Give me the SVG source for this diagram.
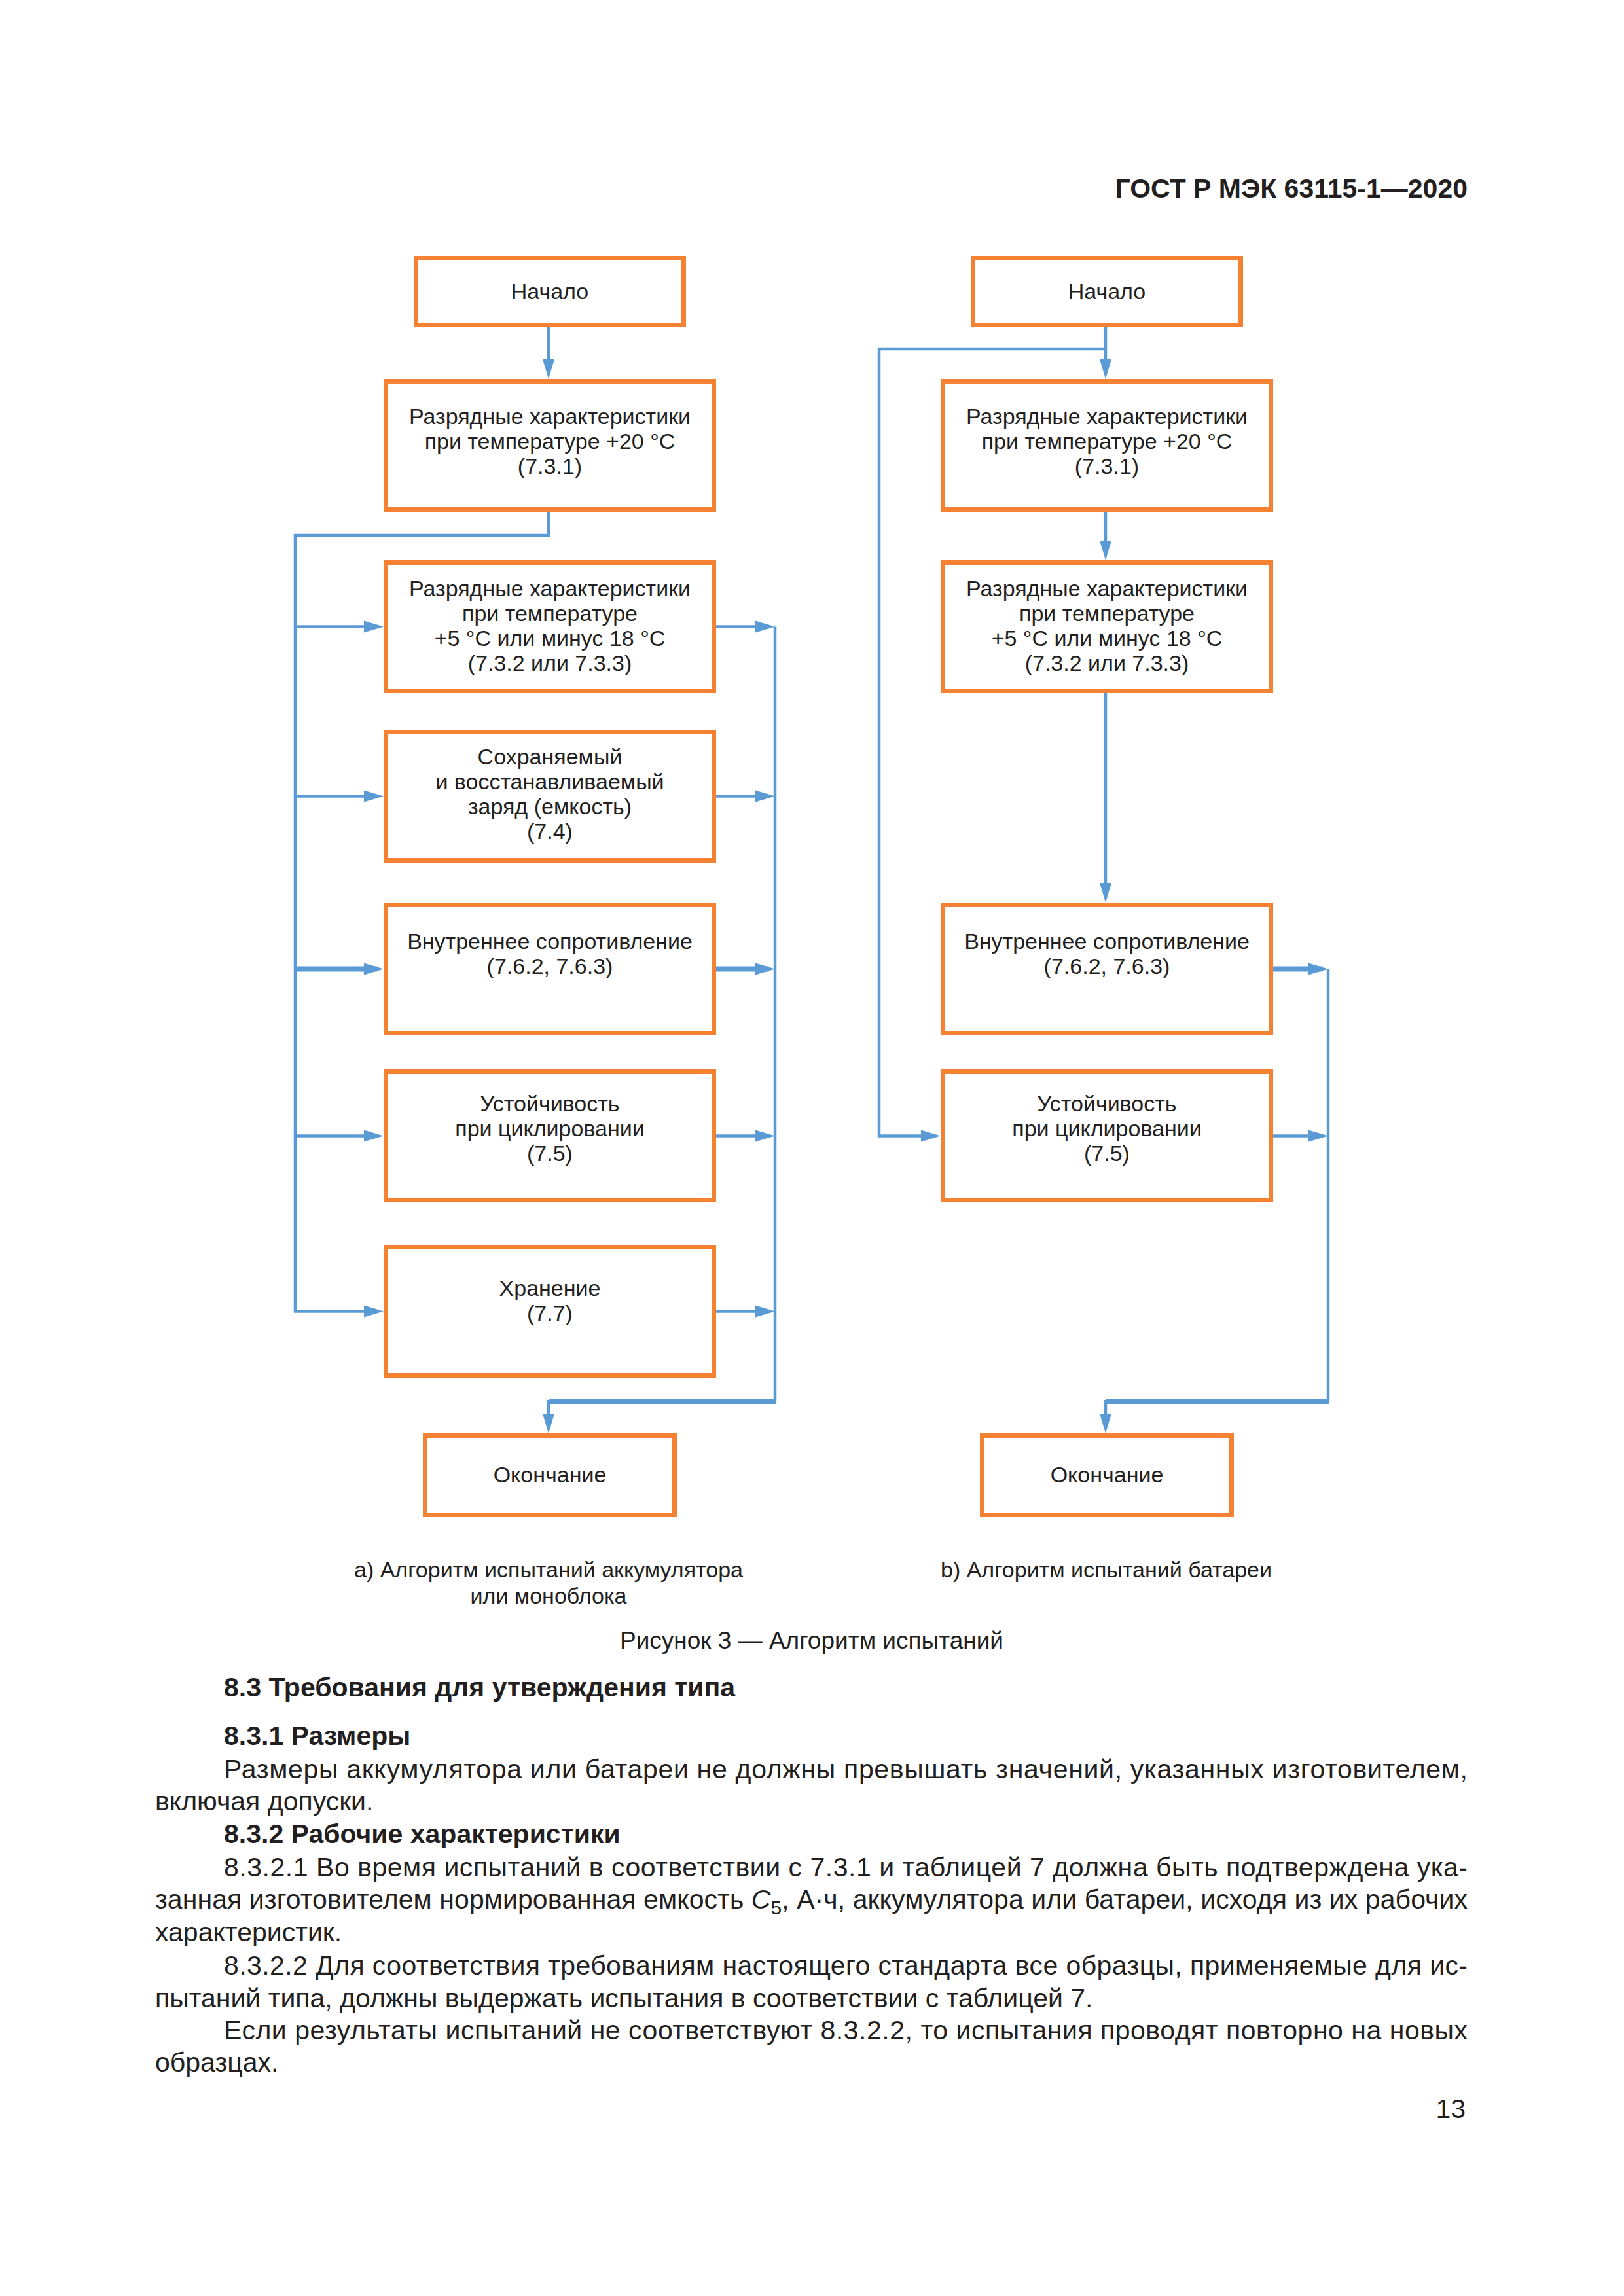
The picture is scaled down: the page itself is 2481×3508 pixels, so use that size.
<svg xmlns="http://www.w3.org/2000/svg" width="2481" height="3508" viewBox="0 0 2481 3508">
<style>
.box{fill:#ffffff;stroke:#f58233;stroke-width:7}
.t{font-family:"Liberation Sans",Arial,sans-serif;font-size:34px;fill:#231f20;text-anchor:middle}
.c{fill:none;stroke:#5b9bd5;stroke-width:4.5}
.ct{fill:none;stroke:#5b9bd5;stroke-width:8}
.body{font-family:"Liberation Sans",Arial,sans-serif;font-size:41px;fill:#231f20}
.b{font-weight:bold}
</style>
<defs>
<marker id="ah" markerUnits="userSpaceOnUse" markerWidth="32" markerHeight="20" refX="20" refY="10" orient="auto">
<path d="M0,1 L30,10 L0,19 Z" fill="#5b9bd5"/>
</marker>
</defs>
<rect width="2481" height="3508" fill="#ffffff"/>
<text class="body b" x="2242" y="302" style="text-anchor:end">ГОСТ Р МЭК 63115-1—2020</text>

<g id="connectors">
<path class="c" d="M838,500 V569" marker-end="url(#ah)"/>
<path class="c" d="M838,782 V818 H451 V2003.5"/>
<path class="c" d="M451,957.5 H576" marker-end="url(#ah)"/>
<path class="c" d="M451,1216.5 H576" marker-end="url(#ah)"/>
<path class="ct" d="M451,1480.5 H576" marker-end="url(#ah)"/>
<path class="c" d="M451,1735.5 H576" marker-end="url(#ah)"/>
<path class="c" d="M449,2003.5 H576" marker-end="url(#ah)"/>
<path class="c" d="M1094,957.5 H1174" marker-end="url(#ah)"/>
<path class="c" d="M1094,1216.5 H1174" marker-end="url(#ah)"/>
<path class="ct" d="M1094,1480.5 H1174" marker-end="url(#ah)"/>
<path class="c" d="M1094,1735.5 H1174" marker-end="url(#ah)"/>
<path class="c" d="M1094,2003.5 H1174" marker-end="url(#ah)"/>
<path class="c" d="M1184,957.5 V2141"/>
<path class="ct" d="M1186,2141 H838"/>
<path class="c" d="M838,2139 V2180" marker-end="url(#ah)"/>
<path class="c" d="M1689,500 V569" marker-end="url(#ah)"/>
<path class="c" d="M1689,533 H1343 V1735.5 H1427" marker-end="url(#ah)"/>
<path class="c" d="M1689,782 V846" marker-end="url(#ah)"/>
<path class="c" d="M1689,1059 V1369" marker-end="url(#ah)"/>
<path class="ct" d="M1945,1480.5 H2019" marker-end="url(#ah)"/>
<path class="c" d="M1945,1735.5 H2019" marker-end="url(#ah)"/>
<path class="c" d="M2029,1480.5 V2141"/>
<path class="ct" d="M2031,2141 H1689"/>
<path class="c" d="M1689,2139 V2180" marker-end="url(#ah)"/>
</g>

<g id="a-start"><rect class="box" x="635.5" y="394.5" width="409" height="102"/><text class="t" x="840" y="457">Начало</text></g>
<g id="a-discharge20"><rect class="box" x="589.5" y="582.5" width="501" height="196"/><text class="t" x="840" y="648">Разрядные характеристики</text><text class="t" x="840" y="686">при температуре +20 °C</text><text class="t" x="840" y="724">(7.3.1)</text></g>
<g id="a-discharge5"><rect class="box" x="589.5" y="859.5" width="501" height="196"/><text class="t" x="840" y="911">Разрядные характеристики</text><text class="t" x="840" y="949">при температуре</text><text class="t" x="840" y="987">+5 °C или минус 18 °C</text><text class="t" x="840" y="1025">(7.3.2 или 7.3.3)</text></g>
<g id="a-charge"><rect class="box" x="589.5" y="1118.5" width="501" height="196"/><text class="t" x="840" y="1168">Сохраняемый</text><text class="t" x="840" y="1206">и восстанавливаемый</text><text class="t" x="840" y="1244">заряд (емкость)</text><text class="t" x="840" y="1282">(7.4)</text></g>
<g id="a-resistance"><rect class="box" x="589.5" y="1382.5" width="501" height="196"/><text class="t" x="840" y="1450">Внутреннее сопротивление</text><text class="t" x="840" y="1488">(7.6.2, 7.6.3)</text></g>
<g id="a-cycling"><rect class="box" x="589.5" y="1637.5" width="501" height="196"/><text class="t" x="840" y="1698">Устойчивость</text><text class="t" x="840" y="1736">при циклировании</text><text class="t" x="840" y="1774">(7.5)</text></g>
<g id="a-storage"><rect class="box" x="589.5" y="1905.5" width="501" height="196"/><text class="t" x="840" y="1980">Хранение</text><text class="t" x="840" y="2018">(7.7)</text></g>
<g id="a-end"><rect class="box" x="649.5" y="2193.5" width="381" height="121"/><text class="t" x="840" y="2265">Окончание</text></g>

<g id="b-start"><rect class="box" x="1486.5" y="394.5" width="409" height="102"/><text class="t" x="1691" y="457">Начало</text></g>
<g id="b-discharge20"><rect class="box" x="1440.5" y="582.5" width="501" height="196"/><text class="t" x="1691" y="648">Разрядные характеристики</text><text class="t" x="1691" y="686">при температуре +20 °C</text><text class="t" x="1691" y="724">(7.3.1)</text></g>
<g id="b-discharge5"><rect class="box" x="1440.5" y="859.5" width="501" height="196"/><text class="t" x="1691" y="911">Разрядные характеристики</text><text class="t" x="1691" y="949">при температуре</text><text class="t" x="1691" y="987">+5 °C или минус 18 °C</text><text class="t" x="1691" y="1025">(7.3.2 или 7.3.3)</text></g>
<g id="b-resistance"><rect class="box" x="1440.5" y="1382.5" width="501" height="196"/><text class="t" x="1691" y="1450">Внутреннее сопротивление</text><text class="t" x="1691" y="1488">(7.6.2, 7.6.3)</text></g>
<g id="b-cycling"><rect class="box" x="1440.5" y="1637.5" width="501" height="196"/><text class="t" x="1691" y="1698">Устойчивость</text><text class="t" x="1691" y="1736">при циклировании</text><text class="t" x="1691" y="1774">(7.5)</text></g>
<g id="b-end"><rect class="box" x="1500.5" y="2193.5" width="381" height="121"/><text class="t" x="1691" y="2265">Окончание</text></g>

<g id="captions">
<text class="t" x="838" y="2410">a) Алгоритм испытаний аккумулятора</text>
<text class="t" x="838" y="2450">или моноблока</text>
<text class="t" x="1690" y="2410">b) Алгоритм испытаний батареи</text>
<text class="t" x="1240" y="2519" style="font-size:37px">Рисунок 3 — Алгоритм испытаний</text>
</g>

<g id="body">
<text class="body b" x="342" y="2592">8.3 Требования для утверждения типа</text>
<text class="body b" x="342" y="2666">8.3.1 Размеры</text>
<text class="body" x="342" y="2717" textLength="1900" lengthAdjust="spacing">Размеры аккумулятора или батареи не должны превышать значений, указанных изготовителем,</text>
<text class="body" x="237" y="2766">включая допуски.</text>
<text class="body b" x="342" y="2816">8.3.2 Рабочие характеристики</text>
<text class="body" x="342" y="2867" textLength="1900" lengthAdjust="spacing">8.3.2.1 Во время испытаний в соответствии с 7.3.1 и таблицей 7 должна быть подтверждена ука-</text>
<text class="body" x="237" y="2916" textLength="2005" lengthAdjust="spacing">занная изготовителем нормированная емкость <tspan font-style="italic">C</tspan><tspan dy="9" font-size="30">5</tspan><tspan dy="-9">, А·ч, аккумулятора или батареи, исходя из их рабочих</tspan></text>
<text class="body" x="237" y="2966">характеристик.</text>
<text class="body" x="342" y="3017" textLength="1900" lengthAdjust="spacing">8.3.2.2 Для соответствия требованиям настоящего стандарта все образцы, применяемые для ис-</text>
<text class="body" x="237" y="3067">пытаний типа, должны выдержать испытания в соответствии с таблицей 7.</text>
<text class="body" x="342" y="3116" textLength="1900" lengthAdjust="spacing">Если результаты испытаний не соответствуют 8.3.2.2, то испытания проводят повторно на новых</text>
<text class="body" x="237" y="3165">образцах.</text>
<text class="body" x="2239" y="3236" style="text-anchor:end">13</text>
</g>
</svg>
